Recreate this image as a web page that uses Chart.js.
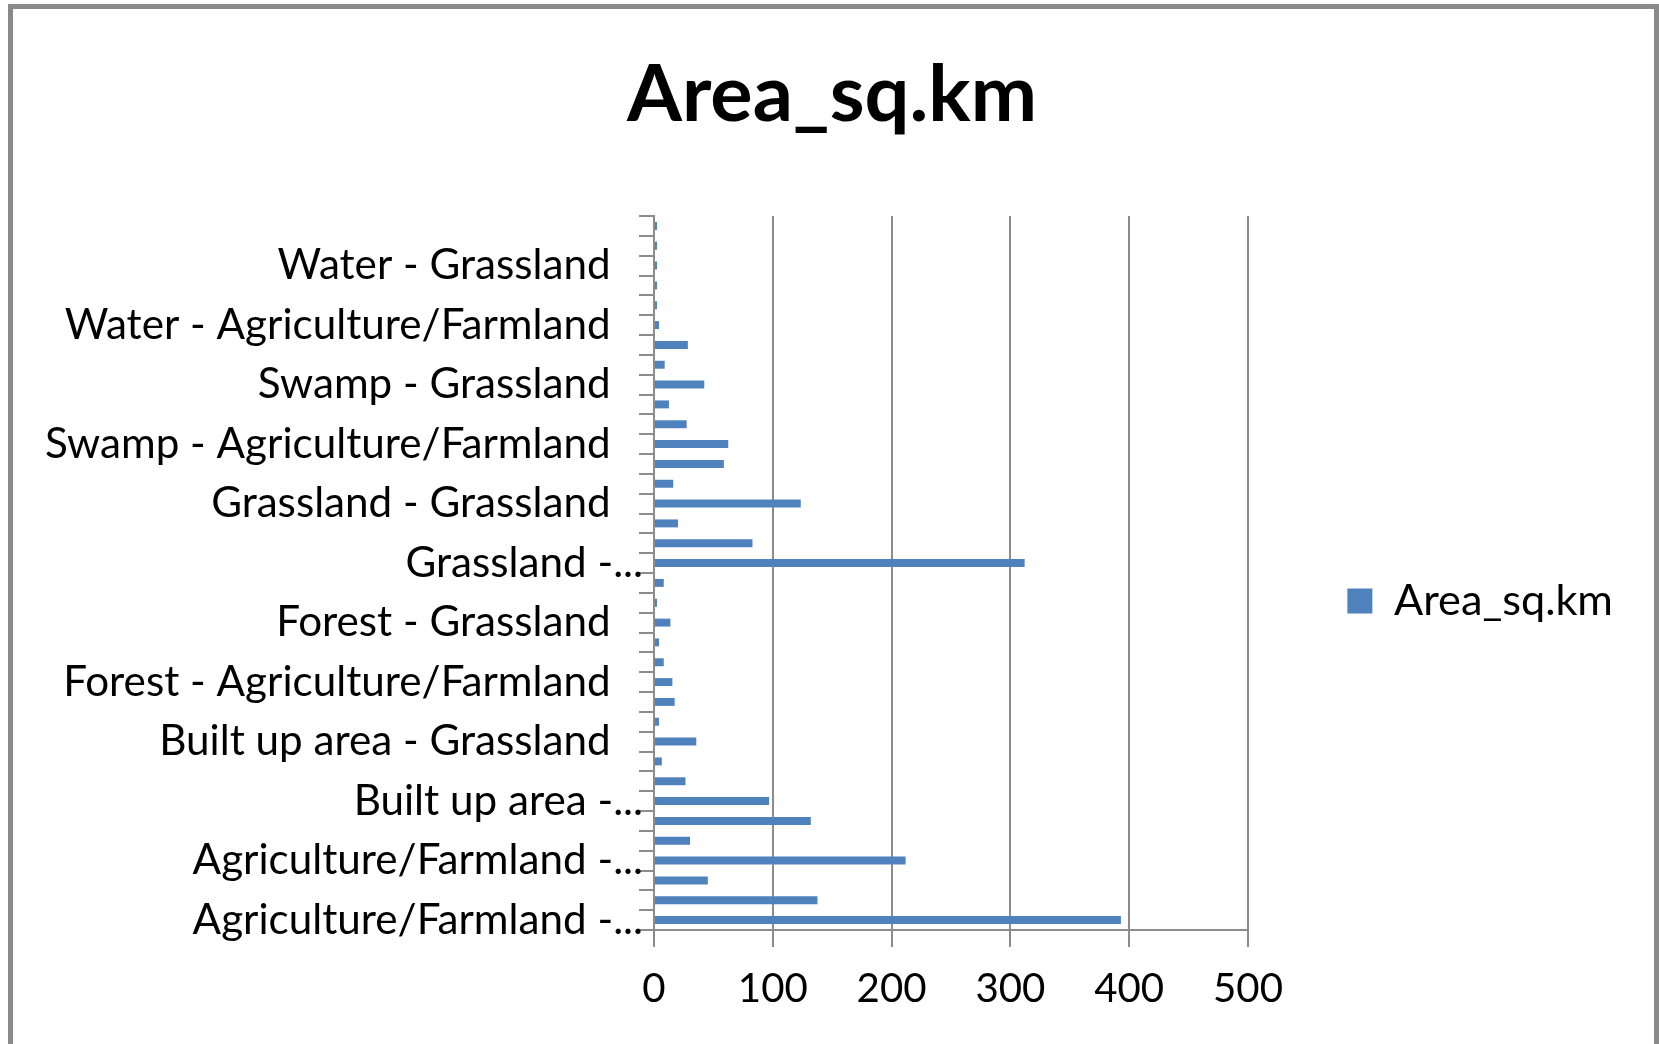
<!DOCTYPE html>
<html>
<head>
<meta charset="utf-8">
<script src="https://cdn.jsdelivr.net/npm/chart.js@4.4.1/dist/chart.umd.min.js"></script>
<style>
  html, body { margin: 0; padding: 0; background: #ffffff; }
  #wrap { position: relative; width: 1659px; height: 1044px; overflow: hidden; background: #ffffff; }
  #c { position: absolute; left: 0; top: 0; }
  #frame { position: absolute; left: 8px; top: 4px; width: 1651px; height: 1200px;
           border: 5px solid #8a8a8a; box-sizing: border-box; pointer-events: none; }
</style>
</head>
<body>
<div id="wrap">
  <canvas id="c" width="1659" height="1044"></canvas>
  <div id="frame"></div>
</div>
<script>
// ---------------- data (first category is drawn at the bottom, as in the source) ----------------
const chartTitle = 'Area_sq.km';
const seriesName = 'Area_sq.km';

const categories = [
  'Agriculture/Farmland - Agriculture/Farmland',
  'Agriculture/Farmland - Built up area',
  'Agriculture/Farmland - Forest',
  'Agriculture/Farmland - Grassland',
  'Agriculture/Farmland - Swamp',
  'Agriculture/Farmland - Water',
  'Built up area - Agriculture/Farmland',
  'Built up area - Built up area',
  'Built up area - Forest',
  'Built up area - Grassland',
  'Built up area - Swamp',
  'Built up area - Water',
  'Forest - Agriculture/Farmland',
  'Forest - Built up area',
  'Forest - Forest',
  'Forest - Grassland',
  'Forest - Swamp',
  'Forest - Water',
  'Grassland - Agriculture/Farmland',
  'Grassland - Built up area',
  'Grassland - Forest',
  'Grassland - Grassland',
  'Grassland - Swamp',
  'Grassland - Water',
  'Swamp - Agriculture/Farmland',
  'Swamp - Built up area',
  'Swamp - Forest',
  'Swamp - Grassland',
  'Swamp - Swamp',
  'Swamp - Water',
  'Water - Agriculture/Farmland',
  'Water - Built up area',
  'Water - Forest',
  'Water - Grassland',
  'Water - Swamp',
  'Water - Water'
];

const areaSqKm = [
  393, 137.6, 45.3, 211.8, 30.3, 132,
  96.9, 26.5, 6.6, 35.6, 4.2, 17.4,
  15.5, 8.2, 4.2, 13.8, 2.5, 8.2,
  312, 82.9, 20.2, 123.5, 16.2, 58.8,
  62.5, 27.5, 12.6, 42.3, 9.0, 28.5,
  4.2, 2.5, 2.5, 2.5, 2.5, 2.5
];

const xTickValues = [0, 100, 200, 300, 400, 500];
const labelEvery = 3;

// ---------------- styling helpers ----------------
const FONT = 'Lato, "Open Sans", "Noto Sans", sans-serif';
const mctx = document.createElement('canvas').getContext('2d');
function textWidth(text, weight, size) {
  mctx.font = weight + ' ' + size + 'px ' + FONT;
  return mctx.measureText(text).width;
}
function fitSize(text, weight, target) {
  return 100 * target / textWidth(text, weight, 100);
}

const titleSize = fitSize(chartTitle, 'bold', 410);
const labelSize = (fitSize('Water - Grassland', 'normal', 330) +
                   fitSize('Swamp - Agriculture/Farmland', 'normal', 571)) / 2;
const tickSize = fitSize('100', 'normal', 70);
const legendSize = fitSize(seriesName, 'normal', 219);

// Excel-like truncation of long category names, plus trailing spaces so that
// untruncated names end where the visible part of the truncated ones ends.
const padSpaces = ' '.repeat(Math.max(0, Math.round(
  textWidth('...', 'normal', labelSize) / textWidth(' ', 'normal', labelSize))));
function tickText(i) {
  if (i % labelEvery !== 0) return '';
  const name = categories[i];
  if (name.length > 29) {
    return name.slice(0, name.indexOf(' - ') + 2) + '...';
  }
  return name + padSpaces;
}

// layout targets (pixels)
const W = 1659;
const plotLeft = 654, plotTop = 216, plotRight = 1248, plotBottom = 930;
const titleCenterX = 832;
const legendTextLeft = 1394;
const legendBox = 25;
const legendPad = legendTextLeft - plotRight - legendBox - legendSize / 2;
const legendItemWidth = legendBox + legendSize / 2 + textWidth(seriesName, 'normal', legendSize);
const padRight = W - (plotRight + legendPad + legendItemWidth + 10);
const padLeft = padRight + 2 * titleCenterX - W;   // keeps the title centred where the source has it
const GRID = '#8c8c8c';

new Chart(document.getElementById('c'), {
  type: 'bar',
  data: {
    labels: categories,
    datasets: [{
      label: seriesName,
      data: areaSqKm,
      backgroundColor: '#4F81BD',
      borderWidth: 0,
      barPercentage: 0.4,
      categoryPercentage: 1.0
    }]
  },
  options: {
    indexAxis: 'y',
    responsive: false,
    animation: false,
    events: [],
    layout: { padding: { left: padLeft, right: padRight, top: 0, bottom: 0 } },
    plugins: {
      title: {
        display: true,
        text: chartTitle,
        color: '#000000',
        font: { family: FONT, weight: 'bold', size: titleSize, lineHeight: 1.2 },
        padding: { top: 95 - 0.6 * titleSize, bottom: plotTop - 95 - 0.6 * titleSize }
      },
      legend: {
        position: 'right',
        align: 'center',
        title: { display: true, text: ' ', font: { size: 10, lineHeight: 1.2 }, padding: { top: 146, bottom: 0 } },
        labels: {
          boxWidth: legendBox,
          boxHeight: legendBox,
          padding: legendPad,
          color: '#000000',
          font: { family: FONT, size: legendSize }
        }
      },
      tooltip: { enabled: false }
    },
    scales: {
      x: {
        position: 'bottom',
        min: xTickValues[0],
        max: xTickValues[xTickValues.length - 1],
        ticks: {
          stepSize: xTickValues[1] - xTickValues[0],
          color: '#000000',
          font: { family: FONT, size: tickSize, lineHeight: 1.2 },
          padding: 990 - plotBottom - 17 - 0.6 * tickSize - 1,
          maxRotation: 0
        },
        grid: { color: GRID, lineWidth: 2, drawTicks: true, tickLength: 17 },
        border: { color: GRID, width: 2 },
        afterFit: (s) => { s.height = 1044 - plotBottom; }
      },
      y: {
        reverse: true,
        offset: true,
        ticks: {
          autoSkip: false,
          color: '#000000',
          font: { family: FONT, size: labelSize, lineHeight: 1.2 },
          padding: -4,
          callback: (v, i) => tickText(i)
        },
        grid: { drawOnChartArea: false, drawTicks: true, tickLength: 15, color: GRID, lineWidth: 2, offset: true },
        border: { color: GRID, width: 2 },
        afterFit: (s) => { s.width = plotLeft - padLeft; }
      }
    }
  }
});
</script>
</body>
</html>
